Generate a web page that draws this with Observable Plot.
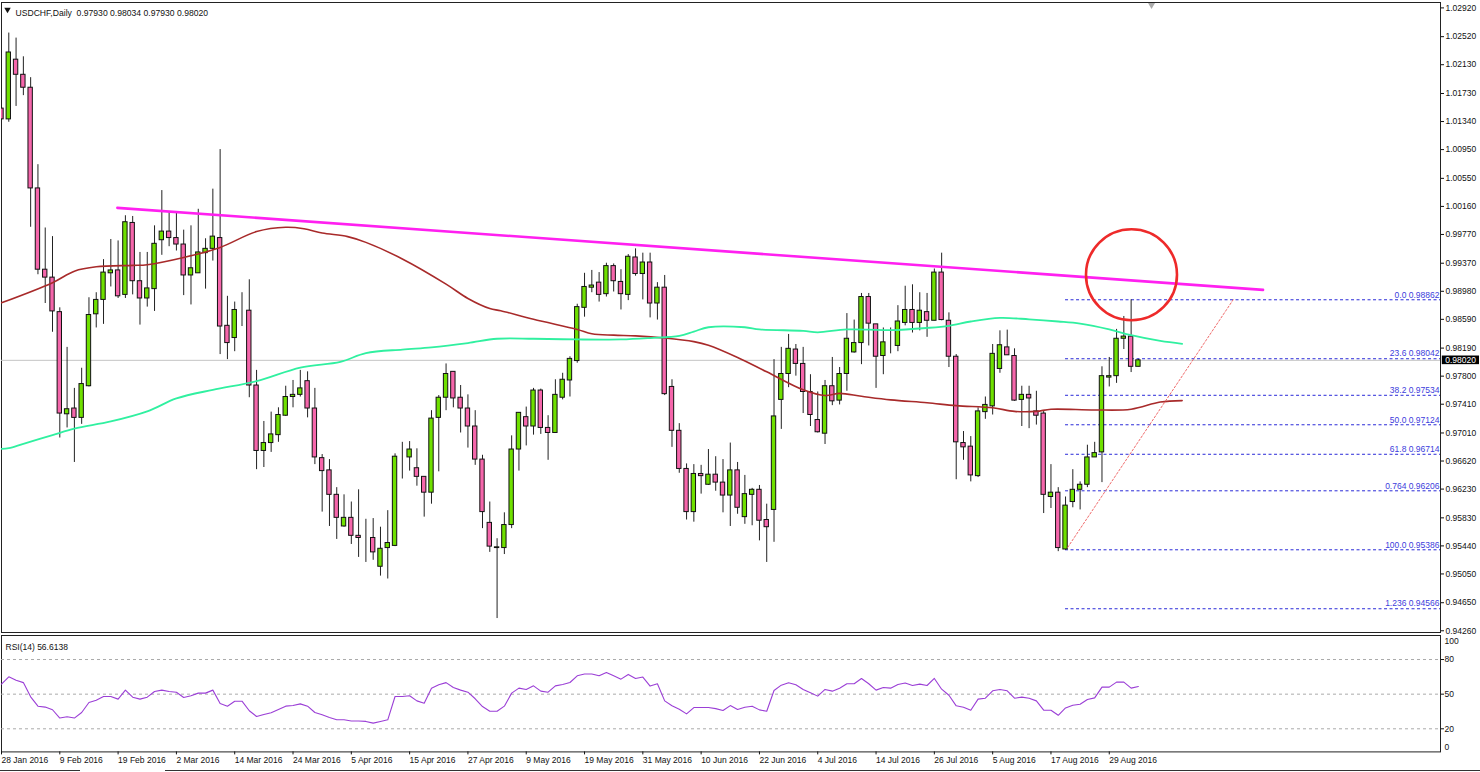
<!DOCTYPE html>
<html><head><meta charset="utf-8">
<script src="https://cdn.jsdelivr.net/npm/d3@7"></script>
<script src="https://cdn.jsdelivr.net/npm/@observablehq/plot@0.6"></script>
<style>
html,body{margin:0;padding:0;background:#fff;overflow:hidden}
#chart{position:relative;width:1480px;height:772px}
#chart svg{display:block}
#edge{position:absolute;left:0;top:770px;width:1480px;height:1px;background:linear-gradient(90deg,#333 80px,#fff 80px,#fff 165px,#333 165px)}
</style></head><body><div id="chart"><div id="edge"></div></div>
<script>
const FONT = '"Liberation Sans", Arial, sans-serif';

const high = [
1.0179,1.0257,1.0250,1.0224,1.0195,1.0074,.9986,.9974,.9875,.9820,
.9763,.9791,.9889,.9896,.9942,.9970,.9968,1.0003,1.0002,.9952,
.9952,.9989,1.0038,1.0009,1.0007,.9983,.9989,1.0012,.9971,1.0040,
1.0095,.9891,.9883,.9896,.9914,.9788,.9717,.9730,.9736,.9766,
.9774,.9788,.9786,.9763,.9671,.9664,.9625,.9615,.9605,.9622,
.9581,.9582,.9570,.9593,.9672,.9688,.9689,.9679,.9640,.9732,
.9753,.9797,.9786,.9767,.9754,.9732,.9670,.9605,.9554,.9590,
.9697,.9729,.9737,.9763,.9762,.9725,.9775,.9784,.9807,.9880,
.9923,.9927,.9924,.9937,.9936,.9928,.9949,.9957,.9951,.9951,
.9910,.9920,.9775,.9714,.9658,.9657,.9656,.9678,.9668,.9664,
.9687,.9660,.9642,.9624,.9628,.9602,.9803,.9820,.9838,.9824,
.9820,.9782,.9758,.9774,.9806,.9792,.9867,.9858,.9895,.9895,
.9852,.9847,.9847,.9878,.9905,.9907,.9896,.9895,.9929,.9951,
.9868,.9810,.9703,.9696,.9736,.9751,.9824,.9843,.9844,.9818,
.9766,.9766,.9759,.9732,.9657,.9625,.9612,.9650,.9633,.9684,
.9688,.9793,.9806,.9845,.9863,.98862,.98034];

const bodyTop = [
1.0152,1.0230,1.0220,1.0199,1.0181,1.0041,.9928,.9917,.9869,.9734,
.9735,.9769,.9865,.9886,.9924,.9927,.9927,.9994,.9993,.9912,
.9902,.9964,.9981,.9981,.9972,.9963,.9930,.9952,.9957,.9974,
.9972,.9850,.9872,.9871,.9871,.9767,.9687,.9699,.9726,.9751,
.9754,.9763,.9773,.9735,.9666,.9649,.9615,.9583,.9583,.9558,
.9555,.9555,.9540,.9548,.9668,.9667,.9678,.9652,.9640,.9721,
.9750,.9783,.9786,.9750,.9735,.9710,.9664,.9576,.9542,.9573,
.9678,.9729,.9723,.9760,.9760,.9708,.9754,.9775,.9804,.9876,
.9904,.9906,.9910,.9933,.9933,.9911,.9946,.9945,.9938,.9938,
.9903,.9903,.9765,.9704,.9651,.9644,.9644,.9643,.9643,.9632,
.9649,.9649,.9616,.9622,.9622,.9580,.9724,.9783,.9818,.9817,
.9797,.9758,.9719,.9766,.9766,.9783,.9832,.9826,.9890,.9890,
.9852,.9827,.9822,.9856,.9872,.9872,.9871,.9869,.9924,.9924,
.9857,.9807,.9687,.9682,.9731,.9740,.9811,.9823,.9820,.9808,
.9754,.9754,.9731,.9728,.9618,.9618,.9600,.9622,.9629,.9667,
.9673,.9780,.9780,.9832,.9835,.9835,.98020];

const bodyBottom = [
1.0137,1.0137,1.0199,1.0181,1.0041,.9928,.9917,.9870,.9728,.9727,
.9722,.9722,.9766,.9866,.9886,.9923,.9891,.9893,.9912,.9888,
.9888,.9901,.9969,.9972,.9963,.9920,.9920,.9923,.9951,.9957,
.9849,.9826,.9833,.9871,.9767,.9676,.9676,.9687,.9698,.9725,
.9751,.9754,.9735,.9667,.9648,.9615,.9583,.9571,.9558,.9555,
.9555,.9535,.9515,.9541,.9544,.9667,.9667,.9640,.9618,.9618,
.9722,.9750,.9749,.9735,.9710,.9664,.9591,.9543,.9541,.9541,
.9573,.9678,.9710,.9710,.9708,.9701,.9701,.9750,.9774,.9801,
.9875,.9903,.9893,.9894,.9912,.9894,.9893,.9922,.9922,.9881,
.9881,.9755,.9704,.9651,.9591,.9591,.9641,.9629,.9632,.9614,
.9614,.9597,.9584,.9615,.9579,.9570,.9594,.9747,.9783,.9797,
.9758,.9726,.9702,.9700,.9745,.9746,.9783,.9813,.9826,.9853,
.9807,.9808,.9822,.9822,.9854,.9854,.9854,.9857,.9857,.9858,
.9807,.9688,.9681,.9642,.9641,.9730,.9738,.9790,.9809,.9746,
.9747,.9749,.9725,.9615,.9612,.9541,.9539,.9605,.9622,.9629,
.9667,.9674,.9778,.9780,.9832,.9793,.97930];

const low = [
1.0112,1.0133,1.0155,1.0170,.9987,.9921,.9881,.9841,.9694,.9708,
.9660,.9713,.9765,.9847,.9852,.9904,.9888,.9888,.9893,.9851,
.9876,.9870,.9948,.9960,.9954,.9892,.9879,.9923,.9901,.9940,
.9810,.9803,.9814,.9849,.9750,.9650,.9653,.9674,.9688,.9724,
.9736,.9751,.9722,.9657,.9591,.9571,.9553,.9570,.9546,.9528,
.9521,.9524,.9502,.9498,.9543,.9637,.9648,.9627,.9584,.9602,
.9647,.9732,.9736,.9701,.9680,.9656,.9568,.9535,.9443,.9532,
.9568,.9648,.9683,.9698,.9699,.9663,.9701,.9747,.9751,.9798,
.9862,.9896,.9883,.9890,.9897,.9872,.9885,.9919,.9886,.9861,
.9858,.9753,.9681,.9645,.9580,.9577,.9616,.9628,.9620,.9590,
.9571,.9588,.9574,.9572,.9551,.9521,.9549,.9706,.9764,.9780,
.9728,.9710,.9701,.9685,.9739,.9740,.9759,.9812,.9796,.9822,
.9763,.9782,.9811,.9814,.9850,.9840,.9843,.9834,.9857,.9857,
.9792,.9636,.9663,.9633,.9639,.9720,.9726,.9784,.9809,.9745,
.9710,.9707,.9712,.9589,.9596,.9536,.9538,.9597,.9594,.9625,
.9667,.9632,.9765,.9770,.9817,.9785,.97930];

// one letter per session: u = rising (green), d = falling (pink)
const rising = ("dudddddddu"+"duuuuududd"+"uuuddduuuu"+"dduudduuuu"+"uudddddudd"+
  "uduuuuuddu"+"uudddddduu"+"uududduuuu"+"uududdudud"+"uddddududd"+
  "uduudduuud"+"ddduduuuud"+"duuuududud"+"dddduuuudd"+"uddduduuuu"+"uuuuudu").split("");

// moving averages: session number and level
const redSessions = [0,7,10,13,18,20,25,30,35,39,41.5,44,47.5,50,55,61,64,67,68.5,73,79,81,84,87,91,95,97,101,105,110,113,115,118,122,127,131,136,139,142,144,150,155,159,162];
const redLevels = [.9882,.9910,.9926,.9932,.9934,.9935,.9945,.9959,.9981,.9987,.9985,.9979,.9974,.9966,.9943,.9908,.9888,.9874,.9871,.9859,.9845,.9839,.9837,.9836,.9833,.9828,.9823,.9806,.9786,.9761,.9753,.9756,.9752,.9747,.9743,.9739,.9736,.9731,.9731,.9734,.9733,.9734,.9744,.9746];
const greenSessions = [0,1,3,7,10,15,20,24,29,35,41,46.5,50,55,59,64,68,73,79,85,89,93,95,97,102,104,110,112,116,122,127,130,133,137,141,145,148,152,155,159,162];
const greenLevels = [.9679,.9680,.9686,.9698,.9707,.9717,.9731,.9749,.9761,.9773,.9792,.9800,.9812,.9817,.9820,.9826,.9832,.9832,.9831,.9831,.9833,.9836,.9842,.9848,.9848,.9845,.9843,.9841,.9845,.9844,.9847,.9850,.9856,.9861,.9859,.9856,.9853,.9845,.9837,.9829,.9825];

// drawn trend lines
const resistanceSessions = [15.9,173.1];
const resistanceLevels = [1.0014,.9900];
const supportSessions = [146.3,169];
const supportLevels = [.9542,.98862];

const fibLevels = [.98862,.98042,.97534,.97124,.96714,.96206,.95386,.94566];
const fibLabels = ["0.0 0.98862","23.6 0.98042","38.2 0.97534","50.0 0.97124","61.8 0.96714","0.764 0.96206","100.0 0.95386","1.236 0.94566"];
const fibStart = 146;

const priceTicks = [1.0292,1.0252,1.0213,1.0173,1.0134,1.0095,1.0055,1.0016,.9977,.9937,.9898,.9859,.9819,.978,.9741,.9701,.9662,.9623,.9583,.9544,.9505,.9465,.9426];
const lastPrice = .9802;
const headerText = "USDCHF,Daily  0.97930 0.98034 0.97930 0.98020";

const rsi = [
58.6,65,62,60,47.7,39.6,38.8,36.5,29.3,30.4,
29.3,34.1,42.8,44.8,48,48,45.7,53.5,47.4,45.7,
47.4,52.3,53.5,52.3,51.7,47.1,48.6,50.9,50.9,53.5,
41.9,39.6,43.9,43.9,35.6,30.7,32.4,33.9,36.7,39.6,
40.2,41.6,39.6,34.1,32.1,29.8,27.8,27.8,26.7,26.7,
26.4,24.9,26.4,27.8,48,48,48.6,44.2,42.2,55.2,
58.1,60,55.8,53.5,51.7,46,39.3,35.2,35.2,39.6,
50.9,55.2,54.1,57.2,52.6,51.7,57.2,58.4,60.1,65.9,
67.4,67.4,65.9,68.8,65.9,63,67.1,63.6,64.8,57,
59,44.2,39.9,37,32.9,38.4,38.4,38.4,37.5,35.8,
40.1,36.7,38.7,39.6,36.4,35.2,53.2,57.8,59.9,58.1,
54.1,51.2,48.3,54.1,52.6,55.2,59,59,63.6,59,
53.5,55.8,55.2,58.4,59.6,57.5,58.7,57.5,63.6,54.3,
49.1,39.9,38.7,36.1,45.7,46.5,52.9,54.1,52.9,46.5,
47.4,46.5,44.2,36.1,36.1,31.7,38.1,40.4,41.3,45.4,
46.8,56.1,56.1,60.4,60.4,55.2,56.6];
const rsiGuides = [80,50,20];
const rsiTitle = "RSI(14) 56.6138";

const dateSessions = [0,8,16,24,32,40,48,56,64,72,80,88,96,104,112,120,128,136,144,152];
const dateLabels = ["28 Jan 2016","9 Feb 2016","19 Feb 2016","2 Mar 2016","14 Mar 2016","24 Mar 2016","5 Apr 2016","15 Apr 2016","27 Apr 2016","9 May 2016","19 May 2016","31 May 2016","10 Jun 2016","22 Jun 2016","4 Jul 2016","14 Jul 2016","26 Jul 2016","5 Aug 2016","17 Aug 2016","29 Aug 2016"];

const GREEN="#6fe000", PINK="#f566ab";
const candles = high.map((h,i)=>({i,high:h,top:bodyTop[i],bottom:bodyBottom[i],low:low[i],up:rising[i]==="u"}));
const zipLine = (xs,ys)=>xs.map((x,k)=>({x,y:ys[k]}));
const xDomain=[0,197.45];
const style={fontFamily:FONT,fontSize:"8.5px",background:"transparent",overflow:"visible",color:"#111"};

const main = Plot.plot({
  width:1480,height:634,marginLeft:1,marginRight:40,marginTop:2,marginBottom:2,style,
  x:{domain:xDomain,axis:null},
  y:{domain:[.94236,1.02995]},
  marks:[
    Plot.frame({stroke:"#222"}),
    Plot.ruleY([lastPrice],{stroke:"#c4c4c4",strokeWidth:1}),
    Plot.ruleY(fibLevels,{y:d=>d,x1:()=>fibStart,x2:()=>xDomain[1],stroke:"#2a2ad8",strokeWidth:1,strokeDasharray:"3,2.5"}),
    Plot.text(fibLevels,{y:d=>d,text:(d,k)=>fibLabels[k],frameAnchor:"right",textAnchor:"end",dx:-1,dy:-5,fill:"#3c3cdc"}),
    Plot.ruleX(candles,{x:"i",y1:"low",y2:"high",stroke:"#222",strokeWidth:1,clip:true}),
    Plot.rect(candles.filter(d=>d.up),{x1:d=>d.i-.3,x2:d=>d.i+.3,y1:"bottom",y2:"top",fill:GREEN,stroke:"#111",strokeWidth:1,clip:true}),
    Plot.rect(candles.filter(d=>!d.up),{x1:d=>d.i-.3,x2:d=>d.i+.3,y1:"bottom",y2:"top",fill:PINK,stroke:"#111",strokeWidth:1,clip:true}),
    Plot.line(zipLine(redSessions,redLevels),{x:"x",y:"y",stroke:"#a82a2a",strokeWidth:1.6,curve:"catmull-rom",clip:true}),
    Plot.line(zipLine(greenSessions,greenLevels),{x:"x",y:"y",stroke:"#30f0a0",strokeWidth:1.8,curve:"catmull-rom",clip:true}),
    Plot.line(zipLine(resistanceSessions,resistanceLevels),{x:"x",y:"y",stroke:"#ff20f0",strokeWidth:2.6}),
    Plot.line(zipLine(supportSessions,supportLevels),{x:"x",y:"y",stroke:"#f06a6a",strokeWidth:1,strokeDasharray:"2,2"}),
    Plot.dot([{x:155.05,y:.9921}],{x:"x",y:"y",r:45.5,stroke:"#ee2a2a",strokeWidth:2.6,fill:"none"}),
    Plot.dot([{x:157.8,y:1.0296}],{x:"x",y:"y",symbol:"triangle",rotate:180,r:2.6,fill:"#aaa",stroke:"none"}),
    Plot.dot([0],{frameAnchor:"top-left",dx:6,dy:7,symbol:"triangle",rotate:180,r:2.4,fill:"#111",stroke:"none"}),
    Plot.text([headerText],{frameAnchor:"top-left",dx:14,dy:7,textAnchor:"start",fill:"#111",fontSize:8.6}),
    Plot.axisY({ticks:priceTicks,anchor:"right",tickFormat:d3.format(".5f"),tickSize:3,tickPadding:2,label:null,stroke:"#111",fill:"#111"}),
    Plot.rect([lastPrice],{x1:()=>197.7,x2:()=>202.8,y1:()=>.9796,y2:()=>.9808,fill:"#000"}),
    Plot.text([lastPrice],{x:()=>198.1,y:d=>d,text:d=>d3.format(".5f")(d),textAnchor:"start",fill:"#fff"})
  ]
});

const sub = Plot.plot({
  width:1480,height:138,marginLeft:1,marginRight:40,marginTop:1,marginBottom:20.6,style,
  x:{domain:xDomain,axis:null},
  y:{domain:[0,100.8],axis:null},
  marks:[
    Plot.frame({stroke:"#222"}),
    Plot.ruleY(rsiGuides,{stroke:"#aaa",strokeWidth:1,strokeDasharray:"3,3"}),
    Plot.line(rsi,{x:(d,i)=>i,y:d=>d,stroke:"#9b3fd6",strokeWidth:1.1}),
    Plot.text([rsiTitle],{frameAnchor:"top-left",dx:4,dy:8,textAnchor:"start",fill:"#111"}),
    Plot.axisY({ticks:rsiGuides,anchor:"right",tickSize:3,tickPadding:1,label:null,fill:"#111",stroke:"#111"}),
    Plot.text([100],{frameAnchor:"right",y:d=>d,dx:4,dy:5,textAnchor:"start",fill:"#111",text:d=>String(d)}),
    Plot.text([0],{frameAnchor:"right",y:d=>d,dx:4,dy:-5,textAnchor:"start",fill:"#111",text:d=>String(d)}),
    Plot.axisX({ticks:dateSessions,anchor:"bottom",tickFormat:d=>dateLabels[dateSessions.indexOf(d)],textAnchor:"start",tickSize:3,tickPadding:2,label:null,fill:"#111",stroke:"#111"})
  ]
});

const host=document.getElementById("chart");
host.insertBefore(sub,host.firstChild);
host.insertBefore(main,sub);
</script></body></html>
